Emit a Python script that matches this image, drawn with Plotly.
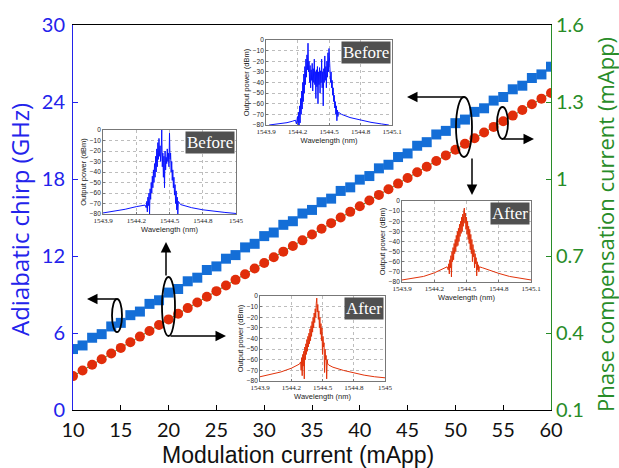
import plotly.graph_objects as go

# ---------------- main data ----------------
mod_current = list(range(10, 61))
chirp_ghz = [4.75, 5.03, 5.63, 5.91, 6.51, 6.79, 7.39, 7.67, 8.27, 8.55,
             9.15, 9.43, 10.03, 10.31, 10.91, 11.19, 11.79, 12.07, 12.67, 12.95,
             13.55, 13.83, 14.43, 14.71, 15.31, 15.59, 16.19, 16.47, 17.07, 17.35,
             17.95, 18.23, 18.83, 19.11, 19.71, 19.99, 20.59, 20.87, 21.47, 21.75,
             22.35, 22.63, 23.23, 23.51, 24.11, 24.39, 24.99, 25.27, 25.87, 26.15,
             26.75]
phase_current = [0.232, 0.254, 0.276, 0.298, 0.320, 0.342, 0.364, 0.386, 0.408, 0.431,
                 0.453, 0.475, 0.497, 0.519, 0.541, 0.563, 0.585, 0.607, 0.629, 0.651,
                 0.673, 0.695, 0.717, 0.739, 0.761, 0.784, 0.806, 0.828, 0.850, 0.872,
                 0.894, 0.916, 0.938, 0.960, 0.982, 1.004, 1.026, 1.048, 1.070, 1.092,
                 1.114, 1.137, 1.159, 1.181, 1.203, 1.225, 1.247, 1.269, 1.291, 1.313,
                 1.335]
x_ticks = [10, 15, 20, 25, 30, 35, 40, 45, 50, 55, 60]
left_ticks = [0, 6, 12, 18, 24, 30]
right_ticks = [0.1, 0.4, 0.7, 1.0, 1.3, 1.6]
right_ticklabels = ["0.1", "0.4", "0.7", "1", "1.3", "1.6"]

# ---------------- inset spectra (wavelength nm, power dBm) ----------------
wl_ticks = [1543.9, 1544.2, 1544.5, 1544.8, 1545.1]
db_ticks = [0, -10, -20, -30, -40, -50, -60, -70, -80]

spec_before_wide = [
    (1543.93, -80), (1544.0, -79.3), (1544.05, -78.6), (1544.10, -77.8), (1544.15, -76.5), (1544.18, -75.5),
    (1544.19, -79), (1544.20, -72), (1544.205, -82), (1544.21, -68), (1544.215, -80), (1544.22, -62),
    (1544.225, -78), (1544.23, -55), (1544.235, -70), (1544.24, -48), (1544.245, -65), (1544.25, -40),
    (1544.255, -58), (1544.26, -32), (1544.265, -50), (1544.27, -25), (1544.275, -42), (1544.28, -18),
    (1544.285, -35), (1544.29, -14), (1544.295, -28), (1544.30, -3), (1544.305, -30), (1544.31, -20),
    (1544.315, -40), (1544.32, -24), (1544.325, -45), (1544.33, -28), (1544.335, -38), (1544.34, -22),
    (1544.345, -48), (1544.35, -27), (1544.355, -40), (1544.36, -18), (1544.365, -42), (1544.37, -30),
    (1544.375, -55), (1544.38, -28), (1544.385, -44), (1544.39, -25), (1544.395, -60), (1544.40, -30),
    (1544.405, -42), (1544.41, -26), (1544.415, -50), (1544.42, -29), (1544.425, -40), (1544.43, -18),
    (1544.435, -45), (1544.44, -30), (1544.445, -62), (1544.45, -27), (1544.455, -40), (1544.46, -15),
    (1544.465, -38), (1544.47, -25), (1544.475, -45), (1544.48, -20), (1544.485, -35), (1544.49, -12),
    (1544.495, -30), (1544.50, -8), (1544.505, -28), (1544.51, -22), (1544.515, -40), (1544.52, -30),
    (1544.525, -45), (1544.53, -38), (1544.535, -52), (1544.54, -45), (1544.545, -58), (1544.55, -52),
    (1544.555, -64), (1544.56, -58), (1544.565, -70), (1544.57, -62), (1544.575, -76), (1544.58, -66),
    (1544.585, -72), (1544.59, -68),
    (1544.62, -70), (1544.7, -73), (1544.8, -75.5), (1544.9, -77.5), (1545.0, -79), (1545.07, -80),
]

spec_before_narrow = [
    (1543.9, -79), (1544.0, -77.5), (1544.1, -75.5), (1544.2, -73), (1544.28, -71.5),
    (1544.29, -74), (1544.295, -68), (1544.30, -78), (1544.305, -64), (1544.31, -72), (1544.315, -60),
    (1544.32, -80), (1544.325, -56), (1544.33, -66), (1544.335, -50), (1544.34, -60), (1544.345, -44),
    (1544.35, -55), (1544.355, -38), (1544.36, -50), (1544.365, -32), (1544.37, -45), (1544.375, -25),
    (1544.38, -40), (1544.385, -18), (1544.39, -35), (1544.395, -12), (1544.40, -28), (1544.405, -8),
    (1544.41, -25), (1544.415, -15), (1544.42, -30), (1544.425, -22), (1544.43, 0), (1544.435, -35),
    (1544.44, -22), (1544.445, -45), (1544.45, -25), (1544.455, -55), (1544.46, -20), (1544.465, -38),
    (1544.47, -26), (1544.475, -32), (1544.48, -18), (1544.485, -30), (1544.49, -22), (1544.495, -35),
    (1544.50, -3), (1544.505, -28), (1544.51, -22), (1544.515, -40), (1544.52, -30), (1544.525, -48),
    (1544.53, -38), (1544.535, -55), (1544.54, -45), (1544.545, -62), (1544.55, -52), (1544.555, -70),
    (1544.56, -58), (1544.565, -76), (1544.57, -64), (1544.575, -80), (1544.58, -68),
    (1544.60, -71), (1544.7, -74), (1544.8, -76), (1544.9, -77.5), (1545.0, -78.5), (1545.1, -79.5),
]

spec_after_right = [
    (1543.9, -78), (1544.0, -76.5), (1544.1, -74.5), (1544.2, -71), (1544.28, -67), (1544.32, -65),
    (1544.33, -68), (1544.335, -62), (1544.34, -72), (1544.345, -58), (1544.35, -66), (1544.355, -54),
    (1544.36, -75), (1544.365, -50), (1544.37, -60), (1544.375, -46), (1544.38, -58), (1544.385, -42),
    (1544.39, -52), (1544.395, -38), (1544.40, -50), (1544.405, -34), (1544.41, -45), (1544.415, -30),
    (1544.42, -44), (1544.425, -27), (1544.43, -40), (1544.435, -23), (1544.44, -35), (1544.445, -20),
    (1544.45, -32), (1544.455, -16), (1544.46, -30), (1544.465, -13), (1544.47, -25), (1544.475, -10),
    (1544.48, -7), (1544.485, -22), (1544.49, -12), (1544.495, -28), (1544.50, -16), (1544.505, -33),
    (1544.51, -20), (1544.515, -38), (1544.52, -25), (1544.525, -42), (1544.53, -28), (1544.535, -48),
    (1544.54, -33), (1544.545, -52), (1544.55, -38), (1544.555, -60), (1544.56, -43), (1544.565, -55),
    (1544.57, -48), (1544.575, -66), (1544.58, -52), (1544.585, -62), (1544.59, -56), (1544.595, -74),
    (1544.60, -60), (1544.605, -68), (1544.61, -63), (1544.615, -70), (1544.62, -65),
    (1544.65, -66), (1544.7, -68), (1544.8, -71.5), (1544.9, -74.5), (1545.0, -76.5), (1545.1, -78),
]

spec_after_bottom = [
    (1543.9, -76), (1544.0, -74), (1544.1, -71.5), (1544.2, -68), (1544.28, -64),
    (1544.29, -62), (1544.295, -70), (1544.30, -58), (1544.305, -75), (1544.31, -55), (1544.315, -66),
    (1544.32, -52), (1544.325, -78), (1544.33, -48), (1544.335, -60), (1544.34, -45), (1544.345, -55),
    (1544.35, -41), (1544.355, -52), (1544.36, -38), (1544.365, -48), (1544.37, -35), (1544.375, -45),
    (1544.38, -31), (1544.385, -42), (1544.39, -28), (1544.395, -38), (1544.40, -24), (1544.405, -34),
    (1544.41, -20), (1544.415, -30), (1544.42, -16), (1544.425, -25), (1544.43, -12), (1544.435, -20),
    (1544.44, -7), (1544.445, -2), (1544.45, -15), (1544.455, -8), (1544.46, -22), (1544.465, -14),
    (1544.47, -30), (1544.475, -20), (1544.48, -36), (1544.485, -26), (1544.49, -42), (1544.495, -30),
    (1544.50, -55), (1544.505, -38), (1544.51, -48), (1544.515, -44), (1544.52, -72), (1544.525, -50),
    (1544.53, -60), (1544.535, -56), (1544.54, -78), (1544.545, -60), (1544.55, -64),
    (1544.56, -65), (1544.6, -67), (1544.7, -70), (1544.8, -72.5), (1544.9, -74.5), (1545.0, -76), (1545.1, -77),
]

# ---------------- layout geometry ----------------
# The body margin is removed by post_script so the figure fills the 619x468 window.
W, H = 619, 468
PLOT_L, PLOT_R, PLOT_T, PLOT_B = 73, 551, 25, 410   # plot area in window pixels
ML, MT, MR, MB = PLOT_L, PLOT_T, W - PLOT_R, H - PLOT_B
PW, PH = PLOT_R - PLOT_L, PLOT_B - PLOT_T


def px_x(p):
    return (p - PLOT_L) / PW


def px_y(p):
    return (PLOT_B - p) / PH


BLUE_AX = "rgb(35,35,235)"
GREEN_AX = "rgb(40,140,40)"
SQ_BLUE = "rgb(20,110,215)"
DOT_RED = "rgb(225,45,10)"
SPEC_BLUE = "rgb(10,20,255)"
SPEC_RED = "rgb(225,50,10)"
TICK_FONT = "Lato"
TITLE_FONT = "Open Sans"

fig = go.Figure()

fig.add_trace(go.Scatter(
    x=mod_current, y=chirp_ghz, mode="markers",
    marker=dict(symbol="square", size=10, color=SQ_BLUE),
    xaxis="x", yaxis="y", showlegend=False, hoverinfo="x+y"))
fig.add_trace(go.Scatter(
    x=mod_current, y=phase_current, mode="lines+markers",
    line=dict(color="rgb(60,160,60)", width=1),
    marker=dict(symbol="circle", size=10, color=DOT_RED),
    xaxis="x", yaxis="y2", showlegend=False, hoverinfo="x+y"))

insets = [
    (spec_before_wide, SPEC_BLUE, 266, 392, 40, 125, "Before", "1545.1"),
    (spec_before_narrow, SPEC_BLUE, 103, 236, 130, 214, "Before", "1545"),
    (spec_after_right, SPEC_RED, 402, 531, 201, 282, "After", "1545.1"),
    (spec_after_bottom, SPEC_RED, 260, 385, 296, 381, "After", "1545"),
]

layout_axes = {}
annotations = []
for i, (spec, col, x0, x1, yt, yb, label, lasttick) in enumerate(insets):
    n = i + 3
    xa, ya = f"x{n}", f"y{n}"
    wl = [p[0] for p in spec]
    db = [p[1] for p in spec]
    fig.add_trace(go.Scatter(x=wl, y=db, mode="lines", line=dict(color=col, width=1),
                             xaxis=xa, yaxis=ya, showlegend=False, hoverinfo="x+y"))
    layout_axes[f"xaxis{n}"] = dict(
        domain=[px_x(x0), px_x(x1)], anchor=ya, range=[1543.9, 1545.1],
        tickvals=wl_ticks, ticktext=["1543.9", "1544.2", "1544.5", "1544.8", lasttick],
        tickfont=dict(family="Liberation Serif", size=7, color="#222"),
        showline=True, mirror=True, linecolor="#777", linewidth=0.8,
        showgrid=True, gridcolor="#bdbdbd", griddash="dot", gridwidth=0.6,
        ticks="inside", ticklen=2, tickcolor="#777", zeroline=False,
        title=dict(text="Wavelength (nm)", font=dict(family="Liberation Sans", size=7.5, color="#222"),
                   standoff=1))
    layout_axes[f"yaxis{n}"] = dict(
        domain=[px_y(yb), px_y(yt)], anchor=xa, range=[-80, 0],
        tickvals=db_ticks, tickfont=dict(family="Liberation Sans", size=6.5, color="#222"),
        showline=True, mirror=True, linecolor="#777", linewidth=0.8,
        showgrid=True, gridcolor="#bdbdbd", griddash="dot", gridwidth=0.6,
        ticks="inside", ticklen=2, tickcolor="#777", zeroline=False,
        title=dict(text="Output power (dBm)", font=dict(family="Liberation Sans", size=7.5, color="#222"),
                   standoff=2))
    annotations.append(dict(
        xref="paper", yref="paper", x=px_x(x1 - 1), y=px_y(yt + 1),
        xanchor="right", yanchor="top", text=label, showarrow=False,
        bgcolor="rgb(80,80,80)", borderpad=1,
        font=dict(family="Liberation Serif", size=17, color="white")))

# main axis titles, placed as text at the reference positions
annotations += [
    dict(xref="paper", yref="paper", x=px_x(298), y=px_y(455), xanchor="center", yanchor="middle",
         text="Modulation current (mApp)", showarrow=False,
         font=dict(family="Liberation Sans", size=23, color="#111")),
    dict(xref="paper", yref="paper", x=px_x(19), y=px_y(220), xanchor="center", yanchor="middle",
         text="Adiabatic chirp (GHz)", textangle=-90, showarrow=False,
         font=dict(family=TITLE_FONT, size=24, color=BLUE_AX)),
    dict(xref="paper", yref="paper", x=px_x(605), y=px_y(225), xanchor="center", yanchor="middle",
         text="Phase compensation current (mApp)", textangle=-90, showarrow=False,
         font=dict(family=TITLE_FONT, size=22, color=GREEN_AX)),
]


def mx(p):
    return 10 + (p - PLOT_L) / (PW / 50)


def my(p):
    return (PLOT_B - p) / (PH / 30)


shapes = []
ellipses = [(112, 122, 299, 332), (162, 175, 277, 336), (456, 472, 97, 157), (497, 508, 107, 139)]
for (a, b, c, d) in ellipses:
    shapes.append(dict(type="circle", xref="x", yref="y", x0=mx(a), x1=mx(b), y0=my(d), y1=my(c),
                       line=dict(color="black", width=1.8)))

arrows = [  # (tail px x, tail px y, tip px x, tip px y) in window pixels
    (118, 299, 87, 299),
    (166, 277, 166, 242),
    (169, 336, 226, 336),
    (466, 97, 407, 97),
    (472, 157, 472, 195),
    (502, 139, 534, 139),
]
for (tx, ty, hx, hy) in arrows:
    annotations.append(dict(
        xref="x", yref="y", axref="x", ayref="y",
        x=mx(hx), y=my(hy), ax=mx(tx), ay=my(ty), text="", showarrow=True,
        arrowhead=2, arrowsize=1.4, arrowwidth=1.5, arrowcolor="black", standoff=0))

fig.update_layout(
    width=W, height=H, margin=dict(l=ML, r=MR, t=MT, b=MB, autoexpand=False),
    paper_bgcolor="white", plot_bgcolor="white",
    xaxis=dict(range=[10, 60], tickvals=x_ticks, showgrid=False, zeroline=False,
               showline=True, mirror=True, linecolor="black", linewidth=1,
               ticks="inside", ticklen=5, tickcolor="black", ticklabelstandoff=2,
               tickfont=dict(family=TICK_FONT, size=20, color="#111")),
    yaxis=dict(range=[0, 30], tickvals=left_ticks, showgrid=False, zeroline=False,
               showline=True, linecolor=BLUE_AX, linewidth=1,
               ticks="inside", ticklen=5, tickcolor=BLUE_AX, ticklabelstandoff=3,
               tickfont=dict(family=TICK_FONT, size=20, color=BLUE_AX)),
    yaxis2=dict(range=[0.1, 1.6], tickvals=right_ticks, ticktext=right_ticklabels,
                overlaying="y", side="right", showgrid=False, zeroline=False,
                showline=True, linecolor=GREEN_AX, linewidth=1,
                ticks="inside", ticklen=5, tickcolor=GREEN_AX,
                tickfont=dict(family=TICK_FONT, size=20, color=GREEN_AX)),
    shapes=shapes, annotations=annotations,
    **layout_axes,
)

fig.write_html("out.html", config={"displayModeBar": False},
               post_script="document.body.style.margin='0';document.body.style.overflow='hidden';")
